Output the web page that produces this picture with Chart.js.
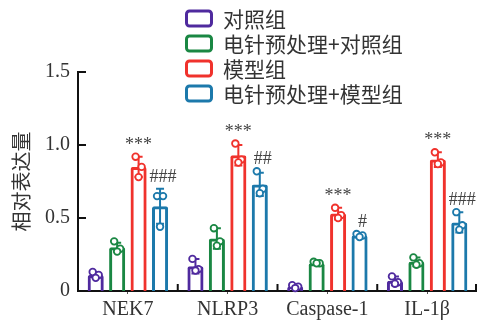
<!DOCTYPE html>
<html>
<head>
<meta charset="utf-8">
<script src="https://cdn.jsdelivr.net/npm/chart.js@4/dist/chart.umd.min.js"></script>
<style>
  html, body { margin: 0; padding: 0; background: #fff; }
  #wrap { width: 477px; height: 322px; position: relative; }
</style>
</head>
<body>
<div id="wrap"><canvas id="c" width="477" height="322"></canvas></div>
<script>
// Relative expression of inflammasome markers in four groups
const categories = ['NEK7', 'NLRP3', 'Caspase-1', 'IL-1β'];
const groupNames = ['对照组', '电针预处理+对照组', '模型组', '电针预处理+模型组'];
const groupColors = ['#4f2a9e', '#1a8743', '#f0322c', '#1c79ab'];

// bar heights (means)
const controlMean   = [0.11, 0.17, 0.03, 0.07];
const eaControlMean = [0.30, 0.36, 0.19, 0.20];
const modelMean     = [0.85, 0.93, 0.53, 0.90];
const eaModelMean   = [0.58, 0.73, 0.38, 0.47];

// standard deviations
const controlSd   = [0.02, 0.05, 0.01, 0.03];
const eaControlSd = [0.03, 0.07, 0.01, 0.03];
const modelSd     = [0.07, 0.07, 0.04, 0.05];
const eaModelSd   = [0.12, 0.08, 0.01, 0.07];

// individual samples (three per bar)
const controlPts   = [[0.13, 0.11, 0.09], [0.22, 0.15, 0.14], [0.04, 0.03, 0.02], [0.10, 0.06, 0.05]];
const eaControlPts = [[0.34, 0.29, 0.27], [0.43, 0.34, 0.31], [0.20, 0.19, 0.19], [0.23, 0.19, 0.18]];
const modelPts     = [[0.92, 0.85, 0.78], [1.01, 0.90, 0.88], [0.57, 0.52, 0.50], [0.95, 0.88, 0.87]];
const eaModelPts   = [[0.65, 0.65, 0.44], [0.82, 0.70, 0.67], [0.39, 0.38, 0.37], [0.54, 0.45, 0.42]];

// significance marks
const modelMarks   = ['***', '***', '***', '***'];
const eaModelMarks = ['###', '##', '#', '###'];

const yTickLabels = ['0', '0.5', '1.0', '1.5'];

const means = [controlMean, eaControlMean, modelMean, eaModelMean];
const sds = [controlSd, eaControlSd, modelSd, eaModelSd];
const points = [controlPts, eaControlPts, modelPts, eaModelPts];
const marks = [null, null, modelMarks, eaModelMarks];

const serif = "'Liberation Serif', 'Times New Roman', serif";
const cjk = "'Noto Sans CJK SC', sans-serif";
const textColor = '#333';

// error bars, sample dots and significance marks
const overlayPlugin = {
  id: 'overlay',
  afterDatasetsDraw(chart) {
    const ctx = chart.ctx;
    const y = chart.scales.y;
    const jitter = [-3, 3, 0];
    ctx.save();
    means.forEach((m, d) => {
      const meta = chart.getDatasetMeta(d);
      const col = groupColors[d];
      meta.data.forEach((bar, i) => {
        const x = bar.x;
        const top = y.getPixelForValue(m[i] + sds[d][i]);
        const bot = y.getPixelForValue(Math.max(0, m[i] - sds[d][i]));
        ctx.strokeStyle = col;
        ctx.lineWidth = 2;
        ctx.beginPath();
        ctx.moveTo(x, top); ctx.lineTo(x, bot);
        ctx.moveTo(x - 4, top); ctx.lineTo(x + 4, top);
        ctx.moveTo(x - 4, bot); ctx.lineTo(x + 4, bot);
        ctx.stroke();
        points[d][i].forEach((v, k) => {
          ctx.beginPath();
          ctx.arc(x + jitter[k], y.getPixelForValue(v), 3.3, 0, Math.PI * 2);
          ctx.fillStyle = '#fff';
          ctx.fill();
          ctx.lineWidth = 1.8;
          ctx.stroke();
        });
        if (marks[d]) {
          const topDot = Math.max(...points[d][i], m[i] + sds[d][i]);
          const ty = y.getPixelForValue(topDot) - 7;
          ctx.fillStyle = '#444';
          ctx.font = '18px ' + serif;
          ctx.textAlign = 'center';
          ctx.textBaseline = 'alphabetic';
          ctx.fillText(marks[d][i], x + (d === 3 ? 3 : 0), ty);
        }
      });
    });
    ctx.restore();
  },
  afterDraw(chart) {
    const ctx = chart.ctx;
    const x = chart.scales.x;
    const y = chart.scales.y;
    const area = chart.chartArea;
    ctx.save();
    ctx.strokeStyle = '#111';
    ctx.lineWidth = 2;
    ctx.beginPath();
    // inward ticks on the value axis
    [0.5, 1.0, 1.5].forEach(v => {
      const py = Math.round(y.getPixelForValue(v));
      ctx.moveTo(area.left, py); ctx.lineTo(area.left + 8, py);
    });
    // inward ticks at category boundaries
    for (let i = 1; i <= categories.length; i++) {
      const px = Math.min(x.getPixelForValue(i - 0.5), area.right - 1);
      ctx.moveTo(px, area.bottom); ctx.lineTo(px, area.bottom - 7);
    }
    ctx.stroke();

    // legend
    ctx.textAlign = 'left';
    ctx.textBaseline = 'middle';
    ctx.font = '21px ' + cjk;
    groupNames.forEach((name, d) => {
      const cy = 18.5 + d * 25;
      ctx.strokeStyle = groupColors[d];
      ctx.lineWidth = 3;
      ctx.beginPath();
      ctx.roundRect(186.5, cy - 7.5, 25, 15, 3);
      ctx.stroke();
      ctx.fillStyle = textColor;
      ctx.fillText(name, 223, cy + 1);
    });
    ctx.restore();
  }
};

new Chart(document.getElementById('c'), {
  type: 'bar',
  data: {
    labels: categories,
    datasets: means.map((m, d) => ({
      label: groupNames[d],
      data: m,
      backgroundColor: 'rgba(255,255,255,0)',
      borderColor: groupColors[d],
      borderWidth: 3,
      borderRadius: 2,
      categoryPercentage: 0.86,
      barPercentage: 0.75
    }))
  },
  options: {
    responsive: false,
    animation: false,
    devicePixelRatio: 1,
    layout: { padding: { top: 72, right: 0, left: 0, bottom: 0 } },
    plugins: { legend: { display: false }, tooltip: { enabled: false } },
    scales: {
      x: {
        grid: { display: true, drawOnChartArea: false, drawTicks: true, tickLength: 3, offset: false, color: '#555', lineWidth: 1 },
        border: { display: true, color: '#111', width: 2 },
        ticks: { color: textColor, font: { family: serif, size: 20 }, padding: 4, maxRotation: 0, autoSkip: false },
        afterFit(s) { s.height = 31; }
      },
      y: {
        min: 0, max: 1.5,
        grid: { display: false, drawTicks: false },
        border: { display: true, color: '#111', width: 2 },
        ticks: {
          stepSize: 0.5,
          color: textColor,
          padding: 8,
          font: { family: serif, size: 20 },
          callback: (v, i) => yTickLabels[i]
        },
        title: { display: true, text: '相对表达量', color: textColor, font: { family: cjk, size: 20 }, padding: { top: 9, bottom: 0 } },
        afterFit(s) { s.width = 78; }
      }
    }
  },
  plugins: [overlayPlugin]
});
</script>
</body>
</html>
